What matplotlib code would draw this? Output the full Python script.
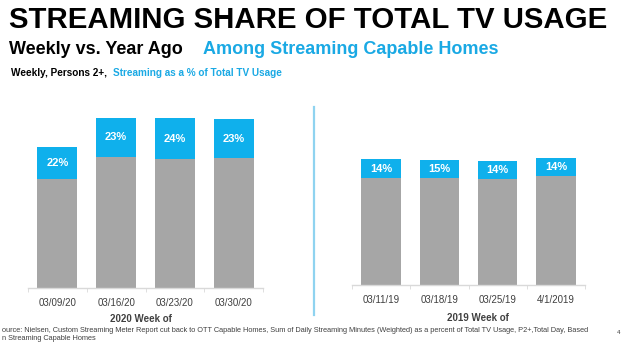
"""Streaming share of total TV usage, 2020 weeks vs. the same weeks a year ago."""

import matplotlib
matplotlib.use("Agg")
import matplotlib.pyplot as plt
from matplotlib.lines import Line2D

# Chart data (bar heights in relative usage units)
weeks_2020 = ["03/09/20", "03/16/20", "03/23/20", "03/30/20"]
share_2020 = [22, 23, 24, 23]
other_2020 = [109, 131, 129, 130]
stream_2020 = [32, 39, 41, 39]

weeks_2019 = ["03/11/19", "03/18/19", "03/25/19", "4/1/2019"]
share_2019 = [14, 15, 14, 14]
other_2019 = [107, 107, 106, 109]
stream_2019 = [19, 18, 18, 18]

GRAY = "#a6a6a6"
BLUE = "#0fb0ec"
TEXT_BLUE = "#1aa9e4"
AXIS_GRAY = "#d9d9d9"
DARK = "#404040"

W, H = 624, 355
plt.rcParams["font.family"] = ["Liberation Sans", "DejaVu Sans"]


def fx(x):
    return x / W


def fy(y):
    return 1 - y / H


def draw_panel(ax, weeks, other, stream, share, xlabel):
    """Stacked bars: non-streaming (gray) with streaming (blue) on top."""
    pos = range(len(weeks))
    ax.bar(pos, other, width=0.68, color=GRAY)
    ax.bar(pos, stream, width=0.68, bottom=other, color=BLUE)

    for i, (o, s, p) in enumerate(zip(other, stream, share)):
        ax.text(i, o + s / 2, f"{p}%", ha="center", va="center",
                color="white", fontsize=8, fontweight="bold")

    ax.set_xlim(-0.5, len(weeks) - 0.5)
    ax.set_ylim(0, 200)
    for side in ["left", "right", "top"]:
        ax.spines[side].set_visible(False)
    ax.spines["bottom"].set_color(AXIS_GRAY)
    ax.spines["bottom"].set_linewidth(1)
    ax.set_yticks([])

    ax.set_xticks(list(pos))
    ax.set_xticklabels(weeks, fontsize=7, color=DARK)
    ax.tick_params(axis="x", which="major", length=0, pad=7)
    ax.set_xticks([i - 0.5 for i in range(len(weeks) + 1)], minor=True)
    ax.tick_params(axis="x", which="minor", length=3, color=AXIS_GRAY)

    ax.set_xlabel(xlabel, fontsize=7, fontweight="bold", color=DARK, labelpad=4)


fig = plt.figure(figsize=(W / 100, H / 100), dpi=100)

# Titles
fig.text(fx(9), fy(20), "STREAMING SHARE OF TOTAL TV USAGE", fontsize=21.2,
         fontweight="bold", color="black", va="center", ha="left")
fig.text(fx(9), fy(49), "Weekly vs. Year Ago", fontsize=13,
         fontweight="bold", color="black", va="center", ha="left")
fig.text(fx(203), fy(49), "Among Streaming Capable Homes", fontsize=13,
         fontweight="bold", color=TEXT_BLUE, va="center", ha="left")
fig.text(fx(11), fy(73), "Weekly, Persons 2+,", fontsize=7.2,
         fontweight="bold", color="black", va="center", ha="left")
fig.text(fx(113), fy(73), "Streaming as a % of Total TV Usage", fontsize=7.2,
         fontweight="bold", color=TEXT_BLUE, va="center", ha="left")

# Panels
ax_left = fig.add_axes([fx(28), fy(288), 235 / W, 200 / H])
draw_panel(ax_left, weeks_2020, other_2020, stream_2020, share_2020, "2020 Week of")
ax_left.xaxis.set_label_coords(0.48, -0.13)

ax_right = fig.add_axes([fx(352), fy(285), 233 / W, 200 / H])
draw_panel(ax_right, weeks_2019, other_2019, stream_2019, share_2019, "2019 Week of")
ax_right.xaxis.set_label_coords(0.54, -0.14)

# Divider between the two panels
fig.add_artist(Line2D([fx(314), fx(314)], [fy(107), fy(315)],
                      color="#8fd3f0", linewidth=1.6))

# Source note
fig.text(fx(2), fy(330),
         "ource: Nielsen, Custom Streaming Meter Report cut back to OTT Capable Homes, "
         "Sum of Daily Streaming Minutes (Weighted) as a percent of Total TV Usage, "
         "P2+,Total Day, Based",
         fontsize=5.3, color=DARK, va="center", ha="left")
fig.text(fx(2), fy(339), "n Streaming Capable Homes",
         fontsize=5.3, color=DARK, va="center", ha="left")
fig.text(fx(617), fy(333), "4", fontsize=4.5, color=DARK, va="center", ha="left")

fig.savefig("out.png", dpi=100)
